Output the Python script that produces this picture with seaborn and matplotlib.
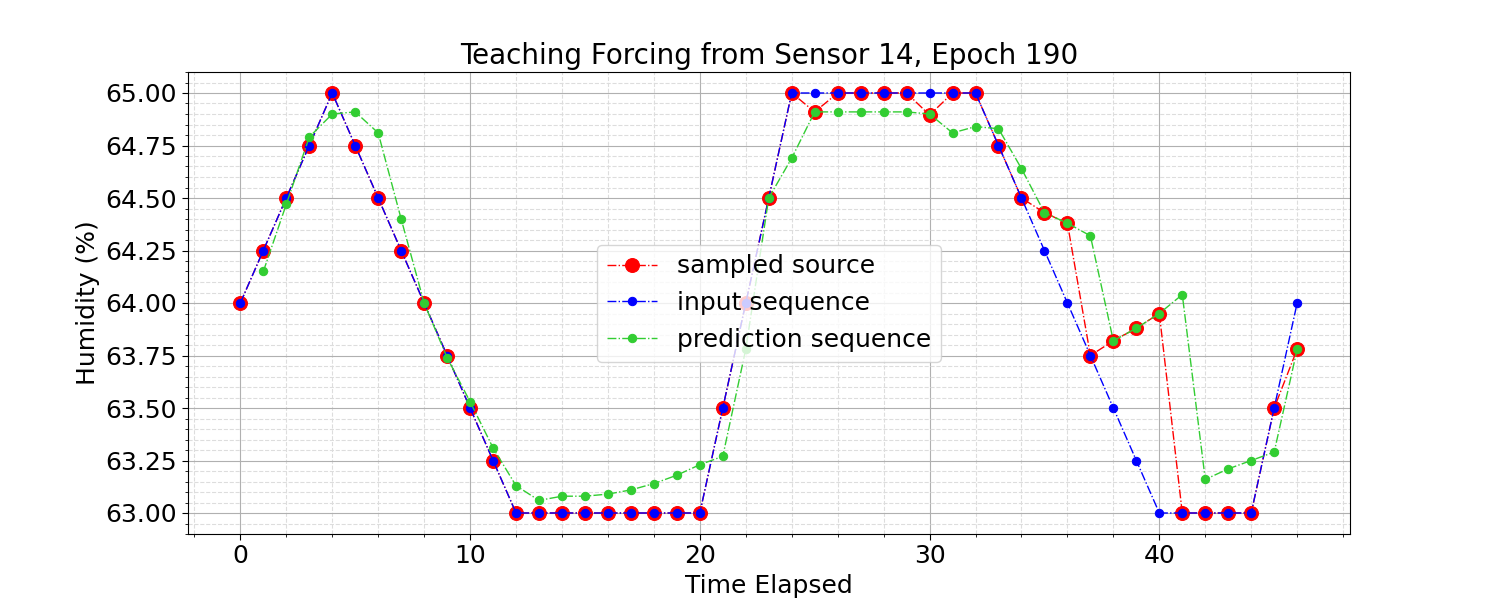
import numpy as np
import pandas as pd
import seaborn as sns
from matplotlib import pyplot as plt

sns.set_style("white")
plt.rcParams['font.family'] = ['DejaVu Sans']
plt.rcParams['text.color'] = 'black'
plt.rcParams['axes.labelcolor'] = 'black'
plt.rcParams['xtick.color'] = 'black'
plt.rcParams['ytick.color'] = 'black'
plt.rcParams['axes.edgecolor'] = 'black'

steps = list(range(47))
source = [64.0, 64.25, 64.5, 64.75, 65.0, 64.75, 64.5, 64.25, 64.0, 63.75, 63.5, 63.25,
          63.0, 63.0, 63.0, 63.0, 63.0, 63.0, 63.0, 63.0, 63.0, 63.5, 64.0, 64.5, 65.0,
          64.91, 65.0, 65.0, 65.0, 65.0, 64.895, 65.0, 65.0, 64.75, 64.5, 64.43, 64.38,
          63.75, 63.82, 63.88, 63.95, 63.0, 63.0, 63.0, 63.0, 63.5, 63.78]
inputs = [64.0, 64.25, 64.5, 64.75, 65.0, 64.75, 64.5, 64.25, 64.0, 63.75, 63.5, 63.25,
          63.0, 63.0, 63.0, 63.0, 63.0, 63.0, 63.0, 63.0, 63.0, 63.5, 64.0, 64.5, 65.0,
          65.0, 65.0, 65.0, 65.0, 65.0, 65.0, 65.0, 65.0, 64.75, 64.5, 64.25, 64.0,
          63.75, 63.5, 63.25, 63.0, 63.0, 63.0, 63.0, 63.0, 63.5, 64.0]
pred_steps = list(range(1, 47))
preds = [64.15, 64.47, 64.79, 64.90, 64.91, 64.81, 64.40, 64.0, 63.74, 63.53, 63.31,
         63.13, 63.06, 63.08, 63.08, 63.09, 63.11, 63.14, 63.18, 63.23, 63.27, 63.78,
         64.5, 64.69, 64.91, 64.91, 64.91, 64.91, 64.91, 64.90, 64.81, 64.84, 64.83,
         64.64, 64.43, 64.38, 64.32, 63.82, 63.88, 63.95, 64.04, 63.16, 63.21, 63.25,
         63.29, 63.78]

fig, ax = plt.subplots(figsize=(15, 6), dpi=100)
fig.subplots_adjust(left=0.125, right=0.9, top=0.88, bottom=0.11)

sns.lineplot(x=steps, y=source, ax=ax, color='red', linestyle='-.', linewidth=1,
             marker='o', markersize=10, markeredgecolor='red', label='sampled source')
sns.lineplot(x=steps, y=inputs, ax=ax, color='blue', linestyle='-.', linewidth=1,
             marker='o', markersize=6, markeredgecolor='blue', label='input sequence')
sns.lineplot(x=pred_steps, y=preds, ax=ax, color='limegreen', linestyle='-.', linewidth=1,
             marker='o', markersize=6, markeredgecolor='limegreen', label='prediction sequence')

ax.minorticks_on()
ax.grid(which='major', color='#b0b0b0', linewidth=0.8)
ax.grid(which='minor', color='#dddddd', linestyle='--', linewidth=0.8)
ax.tick_params(which='both', direction='out', labelsize=18)
ax.tick_params(which='major', length=4, left=True, bottom=True)
ax.tick_params(which='minor', length=2, left=True, bottom=True)
ax.set_yticks([63.0, 63.25, 63.5, 63.75, 64.0, 64.25, 64.5, 64.75, 65.0])
ax.set_yticklabels(['%.2f' % v for v in ax.get_yticks()])
ax.set_xlabel('Time Elapsed', fontsize=18)
ax.set_ylabel('Humidity (%)', fontsize=18)
ax.set_title('Teaching Forcing from Sensor 14, Epoch 190', fontsize=20)
ax.legend(loc='center', fontsize=18)
plt.savefig('out.png')
